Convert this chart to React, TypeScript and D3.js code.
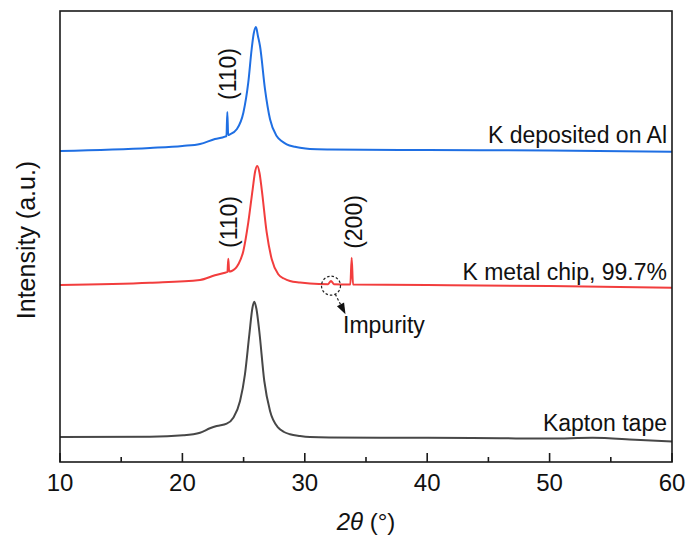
import React from "react";
import * as d3 from "d3";

// ---- data (2θ in degrees, intensity in a.u. incl. vertical offset) ----
const blueTheta = [10, 17.35, 20.0, 21.44, 22.66, 23.48, 23.6, 23.67, 23.74, 23.89, 24.44, 24.98, 25.38, 25.66, 25.82, 26.01, 26.17, 26.34, 26.75, 27.16, 27.7, 28.1, 28.52, 29.2, 29.61, 30.42, 32, 40, 50, 60];
const blueI = [311, 314, 316, 318, 323, 325.3, 326, 350, 327, 327.7, 332.7, 349.3, 379.3, 413, 428, 435, 426, 416, 372.7, 342.7, 326, 321, 317.7, 315.2, 314.2, 313, 312.6, 312, 311.5, 310.3];

const redTheta = [10, 17.35, 21.44, 22.66, 23.48, 23.68, 23.75, 23.82, 24.03, 24.57, 24.98, 25.38, 25.74, 25.95, 26.12, 26.3, 26.48, 26.89, 27.3, 27.83, 28.3, 28.79, 29.61, 30.42, 31.9, 32.14, 32.38, 33.72, 33.83, 33.94, 40, 50, 60];
const redI = [177, 179.3, 182, 186.7, 189.3, 190, 203.3, 190.5, 191, 197.7, 211, 239.3, 272.7, 291, 296, 289, 272.7, 229.3, 202.7, 187.7, 183.5, 181, 179.5, 178.5, 177.8, 181, 177.8, 177.5, 204.3, 177.5, 177, 176, 174.3];

const grayTheta = [10, 17.35, 20.07, 21.44, 22.25, 22.8, 23.62, 24.16, 24.71, 25.11, 25.47, 25.72, 25.87, 26.05, 26.28, 26.69, 27.16, 27.83, 28.3, 28.79, 29.61, 30.42, 32, 40, 46, 50, 53.5, 57, 60];
const grayI = [25, 25.3, 26.7, 29.3, 33.7, 36, 38.3, 44.3, 61, 87.7, 127.7, 154, 160.3, 153, 131, 81, 51, 34.3, 30, 27.7, 26, 25, 24.5, 24.2, 23.7, 23.4, 24.2, 22.3, 20.5];

const xTicks = [10, 20, 30, 40, 50, 60];
const xMinorTicks = [15, 25, 35, 45, 55];

const seriesNames = ["K deposited on Al", "K metal chip, 99.7%", "Kapton tape"];
const peakLabels = ["(110)", "(110)", "(200)"];
const peakThetas = [23.67, 23.75, 33.83];
const peakLabelIntensity = [388, 240, 240];
const impurityTheta = 32.14;
const impurityI = 178.3;

const W = 690;
const H = 544;
const left = 60, right = 672, top = 11, bottom = 462;
const FONT = "'Liberation Sans', Arial, Helvetica, sans-serif";

export default function App() {
  const x = d3.scaleLinear().domain([10, 60]).range([left, right]);
  const y = d3.scaleLinear().domain([0, 451]).range([bottom, top]);

  const mk = (xs: number[], ys: number[]) =>
    d3
      .line<number>()
      .x((_, i) => x(xs[i]))
      .y((v) => y(v))
      .curve(d3.curveMonotoneX)(ys) || "";

  const series = [
    { d: mk(blueTheta, blueI), color: "#1f6fe3", labelY: y(blueI[blueI.length - 1]) - 9 },
    { d: mk(redTheta, redI), color: "#f23d3d", labelY: y(redI[redI.length - 1]) - 8 },
    { d: mk(grayTheta, grayI), color: "#474747", labelY: y(grayI[grayI.length - 1]) - 11 },
  ];

  // impurity circle + arrow
  const cx = x(impurityTheta);
  const cy = y(impurityI) + 2;
  const r = 9.5;
  const tip = [cx + 14.5, cy + 28.5];
  const dx = tip[0] - cx, dy = tip[1] - cy;
  const len = Math.hypot(dx, dy);
  const ux = dx / len, uy = dy / len;
  const startP = [cx + ux * r, cy + uy * r];
  const headLen = 11, headW = 4;
  const baseP = [tip[0] - ux * headLen, tip[1] - uy * headLen];
  const head = `M${tip[0]},${tip[1]} L${baseP[0] - uy * headW},${baseP[1] + ux * headW} L${baseP[0] + uy * headW},${baseP[1] - ux * headW} Z`;

  return (
    <svg width={W} height={H} style={{ position: "absolute", left: 0, top: 0, background: "#fff" }} fontFamily={FONT}>
      <rect x={0} y={0} width={W} height={H} fill="#fff" />
      {series.map((s, i) => (
        <path key={i} d={s.d} fill="none" stroke={s.color} strokeWidth={2} strokeLinejoin="round" />
      ))}
      {/* frame */}
      <rect x={left} y={top} width={right - left} height={bottom - top} fill="none" stroke="#1a1a1a" strokeWidth={1.6} />
      {/* ticks */}
      {xTicks.map((t) => (
        <g key={"t" + t}>
          <line x1={x(t)} x2={x(t)} y1={bottom} y2={bottom - 9} stroke="#1a1a1a" strokeWidth={1.6} />
          <text x={x(t)} y={bottom + 29} fontSize={24} textAnchor="middle" fill="#111">
            {t}
          </text>
        </g>
      ))}
      {xMinorTicks.map((t) => (
        <line key={"m" + t} x1={x(t)} x2={x(t)} y1={bottom} y2={bottom - 5} stroke="#1a1a1a" strokeWidth={1.6} />
      ))}
      {/* axis titles */}
      <text x={366} y={530} fontSize={24} textAnchor="middle" fill="#111">
        <tspan fontStyle="italic">2θ</tspan>
        <tspan> (°)</tspan>
      </text>
      <text
        transform={`translate(26,240) rotate(-90)`}
        fontSize={25}
        textAnchor="middle"
        dominantBaseline="central"
        fill="#111"
      >
        Intensity (a.u.)
      </text>
      {/* series labels */}
      {seriesNames.map((n, i) => (
        <text key={n} x={667} y={series[i].labelY} fontSize={23} textAnchor="end" fill="#111">
          {n}
        </text>
      ))}
      {/* peak labels */}
      {peakLabels.map((p, i) => (
        <text
          key={i}
          transform={`translate(${x(peakThetas[i]) + (i === 2 ? 2 : 1)},${y(peakLabelIntensity[i])}) rotate(-90)`}
          fontSize={23}
          textAnchor="middle"
          dominantBaseline="central"
          fill="#111"
        >
          {p}
        </text>
      ))}
      {/* impurity marker */}
      <circle cx={cx} cy={cy} r={r} fill="none" stroke="#222" strokeWidth={1.2} strokeDasharray="2.5,2" />
      <line x1={startP[0]} y1={startP[1]} x2={baseP[0]} y2={baseP[1]} stroke="#222" strokeWidth={1.2} strokeDasharray="2.5,2" />
      <path d={head} fill="#111" />
      <text x={343} y={333} fontSize={23} fill="#111">
        Impurity
      </text>
    </svg>
  );
}
